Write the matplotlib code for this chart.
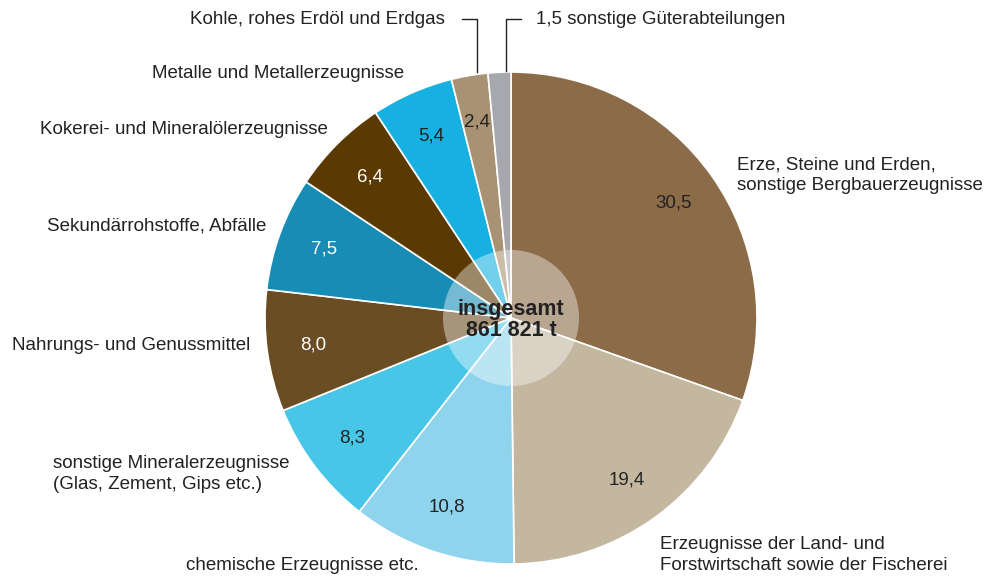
import matplotlib.pyplot as plt
import numpy as np
from matplotlib.patches import Circle

plt.rcParams['font.family'] = ['Liberation Sans', 'DejaVu Sans']

# data (clockwise from 12 o'clock)
values = [30.5, 19.4, 10.8, 8.3, 8.0, 7.5, 6.4, 5.4, 2.4, 1.5]
value_labels = ['30,5', '19,4', '10,8', '8,3', '8,0', '7,5', '6,4', '5,4', '2,4', '']
categories = [
    'Erze, Steine und Erden,\nsonstige Bergbauerzeugnisse',
    'Erzeugnisse der Land- und\nForstwirtschaft sowie der Fischerei',
    'chemische Erzeugnisse etc.',
    'sonstige Mineralerzeugnisse\n(Glas, Zement, Gips etc.)',
    'Nahrungs- und Genussmittel',
    'Sekundärrohstoffe, Abfälle',
    'Kokerei- und Mineralölerzeugnisse',
    'Metalle und Metallerzeugnisse',
    'Kohle, rohes Erdöl und Erdgas',
    '1,5 sonstige Güterabteilungen',
]
colors = ['#8B6B48', '#C3B79F', '#8FD4EC', '#48C6E8', '#6B4D24',
          '#178DB5', '#5B3A02', '#17B1E1', '#A89273', '#A7A8AD']
label_colors = ['#222222', '#222222', '#222222', '#222222', 'white',
                'white', 'white', '#222222', '#222222', '#222222']
total_text = 'insgesamt\n861 821 t'

W, H = 988, 578
fig = plt.figure(figsize=(W / 100, H / 100), dpi=100)
ax = fig.add_axes([0, 0, 1, 1])

cx, cy, R = 511, H - 318, 246
wedges, _ = ax.pie(values, colors=colors, startangle=90, counterclock=False,
                   center=(cx, cy), radius=R,
                   wedgeprops=dict(edgecolor='white', linewidth=1.2))

# value labels inside the slices
for w, lab, c in zip(wedges, value_labels, label_colors):
    if not lab:
        continue
    ang = np.deg2rad((w.theta1 + w.theta2) / 2)
    r = 0.81 * R
    ax.text(cx + r * np.cos(ang), cy + r * np.sin(ang), lab,
            ha='center', va='center', fontsize=13.5, color=c)

# centre circle
ax.add_patch(Circle((cx, cy), 68, facecolor='white', alpha=0.4,
                    edgecolor='none', zorder=3))
ax.text(cx, cy - 2, total_text, ha='center', va='center', fontsize=15.5,
        fontweight='bold', color='#222222', linespacing=1.0, zorder=4)

# category labels (pixel positions, vertically centred)
label_pos = [(737, 175), (660, 555), (186, 566), (53, 474), (12, 346),
             (47, 226), (40, 130), (152, 73), (190, 19), (536, 19)]
for (x, y), txt in zip(label_pos, categories):
    ax.text(x, H - y, txt, ha='left', va='center', fontsize=13.5,
            color='#222222', linespacing=1.3)

# leader lines for the two small slices
ax.plot([462, 477, 477], [H - 19, H - 19, H - 72], color='#222222', lw=1)
ax.plot([521, 506, 506], [H - 19, H - 19, H - 71], color='#222222', lw=1)

ax.set_xlim(0, W)
ax.set_ylim(0, H)
ax.set_aspect('equal')
ax.axis('off')

fig.savefig('out.png', dpi=100)
